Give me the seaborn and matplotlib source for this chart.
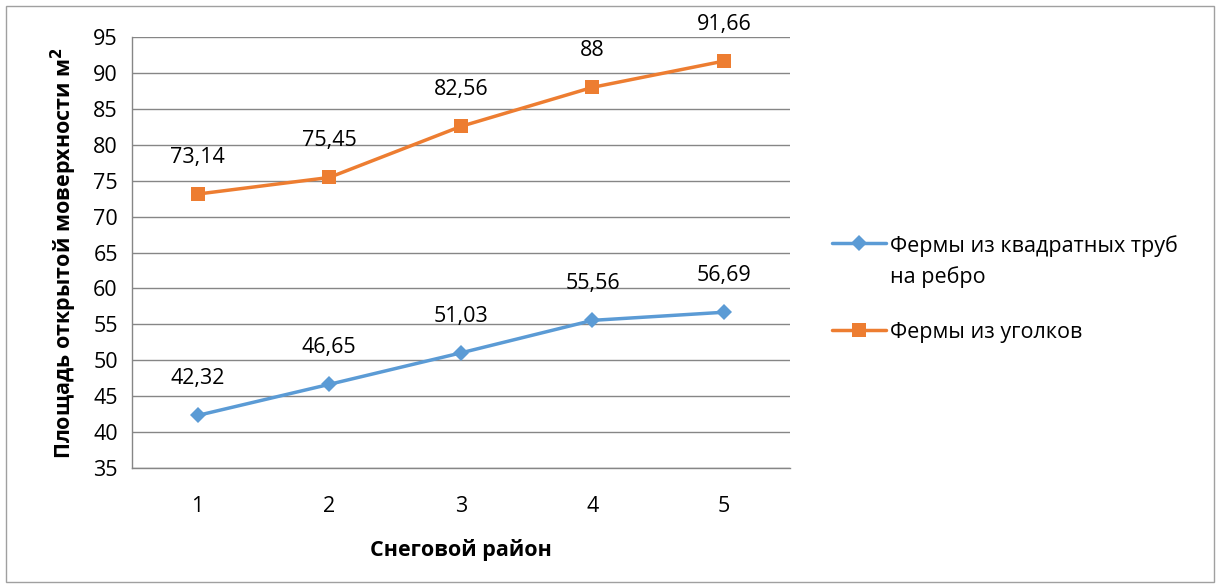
import matplotlib
matplotlib.use("Agg")
import matplotlib.pyplot as plt
import matplotlib.patches as mpatches
import seaborn as sns
import pandas as pd
import numpy as np

districts = [1, 2, 3, 4, 5]
series_names = ["Фермы из квадратных труб\nна ребро", "Фермы из уголков"]
square_tubes = [42.32, 46.65, 51.03, 55.56, 56.69]
angles = [73.14, 75.45, 82.56, 88, 91.66]
y_ticks = list(range(35, 100, 5))

df = pd.DataFrame({
    "district": districts * 2,
    "value": square_tubes + angles,
    "series": [series_names[0]] * 5 + [series_names[1]] * 5,
})

sns.set_style("white")
plt.rcParams["font.family"] = ["Open Sans", "DejaVu Sans"]
plt.rcParams["mathtext.fontset"] = "dejavusans"
plt.rcParams["text.color"] = "black"
plt.rcParams["axes.labelcolor"] = "black"
plt.rcParams["xtick.color"] = "black"
plt.rcParams["ytick.color"] = "black"

colors = {series_names[0]: "#5B9BD5", series_names[1]: "#ED7D31"}
markers = {series_names[0]: "D", series_names[1]: "s"}

fig = plt.figure(figsize=(12.2, 5.88), dpi=100)
ax = fig.add_axes([0.108, 0.204, 0.5395, 0.733])

sns.lineplot(data=df, x="district", y="value", hue="series", style="series",
             palette=colors, markers=markers, dashes=False, linewidth=2.5,
             markersize=10, markeredgewidth=0, ax=ax)
# slimmer diamond like Excel
for line in ax.get_lines():
    if line.get_marker() == "D":
        line.set_markersize(8)

ax.set_xlim(0.5, 5.5)
ax.set_ylim(35, 95)
ax.set_yticks(y_ticks)
ax.set_xticks(districts)
ax.set_xticks(np.arange(0.5, 6.0, 1.0), minor=True)
ax.tick_params(axis="x", which="major", length=0, pad=20, labelsize=15.5,
               labelcolor="black")
ax.tick_params(axis="x", which="minor", length=8, color="#868686", width=1)
ax.tick_params(axis="y", which="major", length=7, color="#868686", width=1,
               labelsize=15.5, pad=3, labelcolor="black")
ax.grid(axis="y", color="#868686", linewidth=1)
ax.set_axisbelow(True)

for s in ["top", "right"]:
    ax.spines[s].set_visible(False)
for s in ["left", "bottom"]:
    ax.spines[s].set_color("#868686")
    ax.spines[s].set_linewidth(1)

for vals in (square_tubes, angles):
    for x, v in zip(districts, vals):
        lbl = f"{v:g}".replace(".", ",")
        ax.annotate(lbl, (x, v), xytext=(0, 19), textcoords="offset points",
                    ha="center", va="bottom", fontsize=15.5, color="black")

ax.set_xlabel("Снеговой район", fontsize=15.5, fontweight="bold", labelpad=16)
ax.set_ylabel("Площадь открытой моверхности м$^{\\mathbf{2}}$", fontsize=15.5,
              fontweight="bold", labelpad=10)

handles, labels = ax.get_legend_handles_labels()
leg = ax.legend(handles, labels, loc="center left", bbox_to_anchor=(1.035, 0.415),
                frameon=False, fontsize=15.5, handlelength=2.5, handletextpad=0.2,
                labelspacing=1.6)
for t in leg.get_texts():
    t.set_linespacing(1.5)
# align handle with first text line, as Excel does
for col in leg._legend_handle_box.get_children():
    for row in col.get_children():
        row.align = "top"

border = mpatches.Rectangle((0.005, 0.01), 0.99, 0.98, transform=fig.transFigure,
                            fill=False, edgecolor="#A0A0A0", linewidth=1)
fig.patches.append(border)

fig.savefig("out.png", dpi=100)
